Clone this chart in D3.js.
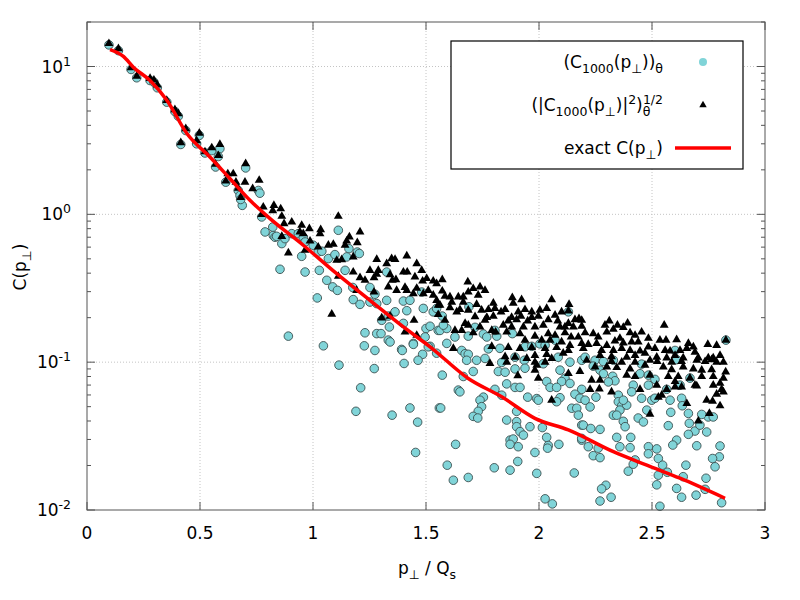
<!DOCTYPE html>
<html lang="en">
<head>
<meta charset="UTF-8">
<title>C(p⊥)</title>
<script src="https://d3js.org/d3.v7.min.js"></script>
<style>
  body { margin: 0; background: #fff; }
  svg { font-family: "DejaVu Sans", sans-serif; }
  .grid line { stroke: #c4c4c4; stroke-width: 1; stroke-dasharray: 1,2; }
  .frame { fill: none; stroke: #555; stroke-width: 1; }
  .tick { stroke: #555; stroke-width: 1; }
  .lbl { font-size: 17px; fill: #000; }
</style>
</head>
<body>
<svg id="chart" width="800" height="600"></svg>
<script>
// axis ticks
const xTicks = [0, 0.5, 1, 1.5, 2, 2.5, 3];
const yDecades = [-2, -1, 0, 1];

// exact C(p_perp)
const exactCurve = [
  [0.102, 13.0], [0.161, 11.7], [0.205, 9.9], [0.279, 8.03], [0.354, 5.89], [0.442, 3.52],
  [0.544, 2.44], [0.633, 1.74], [0.721, 1.245], [0.810, 0.935], [0.957, 0.618], [1.105, 0.397],
  [1.252, 0.262], [1.400, 0.173], [1.518, 0.127], [1.687, 0.0776], [1.835, 0.0583], [1.982, 0.0417],
  [2.130, 0.0348], [2.329, 0.0248], [2.477, 0.0201], [2.624, 0.0164], [2.823, 0.0120]
];

// (C_1000(p_perp))_theta  -- circles
const meanPts = [
  [0.097,14.0],[0.139,12.8],[0.195,9.55],[0.220,8.39],[0.279,8.04],[0.296,7.83],[0.311,7.18],[0.353,5.74],
  [0.389,4.96],[0.404,4.61],[0.437,3.69],[0.415,2.97],[0.485,3.0],[0.497,3.42],[0.522,2.60],[0.552,2.7],
  [0.588,2.78],[0.581,2.46],[0.569,2.09],[0.614,1.65],[0.669,1.45],[0.677,1.34],[0.687,1.15],[0.680,1.26],
  [0.702,2.06],[0.758,1.45],[0.765,1.39],[0.773,0.96],[0.788,0.76],[0.824,0.72],[0.832,0.70],
  [0.822,0.82],[0.839,0.71],[0.862,0.634],[0.876,0.685],[0.906,0.74],[0.935,0.74],[0.957,0.70],[0.965,0.65],
  [1.001,0.618],[1.023,0.556],[1.039,0.563],[0.950,0.520],[1.068,0.502],[1.097,0.534],[1.112,0.78],[1.159,0.586],
  [1.196,0.556],[1.205,0.543],[1.149,0.515],[0.854,0.425],[0.965,0.407],[1.028,0.418],[1.061,0.358],[1.142,0.418],
  [1.326,0.407],[1.087,0.323],[1.108,0.306],[1.176,0.320],[1.252,0.320],[1.178,0.265],[1.208,0.246],[1.252,0.255],
  [1.282,0.249],[1.326,0.262],[1.400,0.259],[1.429,0.262],[1.481,0.298],[1.019,0.272],[1.274,0.288],[1.363,0.219],
  [1.333,0.205],[1.415,0.223],[1.488,0.231],[1.532,0.219],[1.547,0.231],[1.304,0.192],[1.400,0.183],[1.500,0.169],
  [1.518,0.175],[1.554,0.164],[1.338,0.173],[1.282,0.156],[1.301,0.156],[1.230,0.158],[1.496,0.148],[1.333,0.141],
  [1.444,0.134],[0.891,0.150],[1.046,0.129],[1.227,0.129],[1.392,0.122],[1.518,0.128],
  [1.274,0.120],[1.341,0.137],[1.395,0.120],[1.444,0.132],[1.510,0.127],[1.485,0.113],[1.465,0.103],[1.547,0.115],
  [1.115,0.0955],[1.271,0.0905],[1.403,0.098],[1.211,0.0671],[1.190,0.0465],[1.350,0.0438],[1.429,0.0490],
  [1.463,0.0393],[1.559,0.0490],[1.454,0.0245],
  [1.690,0.237],[1.572,0.205],[1.562,0.164],[1.592,0.169],[1.577,0.178],[1.628,0.148],[1.687,0.150],[1.717,0.172],
  [1.754,0.155],[1.769,0.148],[1.813,0.150],[1.805,0.164],[1.882,0.156],[2.130,0.219],[1.592,0.134],[1.658,0.120],
  [1.673,0.114],[1.687,0.113],[1.776,0.123],[1.827,0.124],[1.938,0.127],[1.968,0.128],[2.004,0.133],[2.027,0.130],
  [2.071,0.141],[1.680,0.103],[1.724,0.103],[1.761,0.106],[1.835,0.0995],[1.894,0.108],[1.935,0.103],[2.019,0.0975],
  [2.085,0.108],[2.137,0.100],[2.189,0.103],
  [1.572,0.0817],[1.643,0.0647],[1.650,0.063],[1.709,0.0865],[1.665,0.080],[1.820,0.0865],[1.850,0.0855],[1.894,0.090],
  [1.938,0.091],[1.857,0.0713],[1.894,0.0675],[1.916,0.0675],[1.805,0.0655],[1.754,0.058],[1.739,0.0553],[1.746,0.050],
  [1.731,0.0465],[1.709,0.0430],[1.729,0.0419],[1.565,0.049],[1.835,0.0598],[1.950,0.058],[1.990,0.0567],[1.997,0.0553],
  [1.901,0.0465],[1.857,0.0406],[1.901,0.0396],[1.901,0.0366],[1.916,0.0339],[1.931,0.0321],[1.960,0.0366],[2.015,0.0361],
  [2.093,0.0883],[2.115,0.0778],[2.100,0.074],[2.137,0.0718],[2.034,0.074],[2.049,0.0675],[2.078,0.0675],[2.189,0.0655],
  [2.159,0.0607],[2.181,0.057],[2.093,0.0575],[2.078,0.0540],[2.145,0.0488],[2.167,0.0488],[2.174,0.0438],[2.189,0.0375],
  [2.189,0.0297],[1.872,0.0297],[1.886,0.0302],[1.872,0.0278],[1.908,0.0268],[2.034,0.0310],[2.041,0.0273],[2.038,0.0262],
  [2.088,0.0278],[1.982,0.0245],[1.631,0.0278],[1.594,0.0201],[1.621,0.0159],[1.687,0.0166],[1.802,0.0193],[1.872,0.0186],
  [1.906,0.0213],[1.990,0.0177],[2.156,0.0178],[2.027,0.0119],[2.059,0.0110],
  [2.204,0.108],[2.248,0.103],[2.285,0.101],[2.240,0.094],[2.270,0.0883],[2.285,0.0835],[2.329,0.103],[2.454,0.097],
  [2.447,0.0835],[2.484,0.0817],[2.513,0.0765],[2.609,0.104],[2.602,0.120],[2.326,0.0803],[2.336,0.0748],[2.307,0.0735],
  [2.417,0.0699],[2.484,0.0699],[2.565,0.0655],[2.668,0.078],[2.624,0.0699],[2.827,0.141],
  [2.204,0.0553],[2.226,0.0498],[2.252,0.058],[2.196,0.0375],[2.229,0.0356],[2.270,0.0351],[2.351,0.0598],[2.351,0.0540],
  [2.366,0.0507],[2.388,0.0512],[2.373,0.0553],[2.358,0.0474],[2.329,0.0438],[2.344,0.0438],[2.410,0.0630],[2.454,0.057],
  [2.499,0.0553],[2.513,0.057],[2.477,0.0474],[2.439,0.0419],[2.462,0.0394],[2.373,0.0398],[2.381,0.0366],
  [2.580,0.0553],[2.631,0.057],[2.634,0.0507],[2.583,0.0458],[2.661,0.0450],[2.572,0.0372],[2.665,0.0386],[2.690,0.0342],
  [2.661,0.0325],[2.712,0.0375],[2.749,0.0426],[2.771,0.0426],[2.720,0.0443],[2.742,0.0337],
  [2.344,0.0310],[2.406,0.0310],[2.189,0.0305],[2.218,0.0268],[2.262,0.0262],[2.358,0.0268],[2.403,0.0264],[2.240,0.0233],
  [2.270,0.0226],[2.484,0.0268],[2.521,0.0259],[2.484,0.0240],[2.528,0.0223],[2.609,0.0297],[2.592,0.0275],[2.698,0.0272],
  [2.801,0.0271],[2.798,0.0229],[2.768,0.0223],[2.779,0.0196],[2.425,0.0218],[2.417,0.0204],[2.395,0.0183],[2.547,0.0201],
  [2.568,0.0180],[2.650,0.0201],[2.528,0.0172],[2.638,0.0168],[2.739,0.0164],[2.296,0.0147],[2.277,0.0139],[2.319,0.0122],
  [2.270,0.0115],[2.521,0.0148],[2.609,0.0140],[2.735,0.0138],[2.695,0.0126],[2.631,0.0122],[2.535,0.0106],[2.808,0.0112]
];

// (|C_1000(p_perp)|^2)_theta^(1/2)  -- triangles
const rmsPts = [
  [0.097,14.3],[0.139,13.2],[0.195,9.8],[0.220,8.6],[0.279,8.3],[0.296,8.1],[0.311,7.5],[0.353,5.9],[0.389,5.1],
  [0.404,4.8],[0.437,3.8],[0.415,3.05],[0.485,3.15],[0.497,3.54],[0.522,2.65],[0.552,2.82],[0.588,2.97],[0.581,2.5],
  [0.569,2.18],[0.623,1.88],[0.647,1.88],[0.659,1.65],[0.614,1.68],[0.669,1.50],[0.680,1.30],[0.702,2.20],[0.699,1.65],
  [0.762,1.70],[0.733,1.49],[0.780,1.12],[0.773,1.0],[0.827,1.15],[0.857,1.09],[0.862,0.97],[0.822,1.06],[0.906,0.887],
  [0.950,0.843],[0.984,0.80],[1.112,0.97],
  [0.872,0.865],[1.034,0.788],[0.942,0.76],[0.957,0.741],[1.031,0.741],[1.208,0.76],[1.161,0.703],[0.862,0.71],
  [0.987,0.66],[1.090,0.627],[1.068,0.618],[1.196,0.644],[1.023,0.601],[1.149,0.66],[1.142,0.618],[0.891,0.548],
  [0.965,0.571],[1.282,0.496],[1.415,0.523],[1.326,0.464],[1.348,0.502],[1.363,0.496],[1.105,0.489],[1.127,0.494],
  [1.459,0.464],[1.178,0.515],[1.252,0.418],[1.289,0.418],[1.481,0.418],[1.400,0.407],[1.417,0.407],[1.341,0.391],
  [1.178,0.407],[1.208,0.373],[1.112,0.381],[1.270,0.373],[1.282,0.393],[1.230,0.358],[1.351,0.358],[1.367,0.362],
  [1.451,0.377],[1.503,0.368],[1.532,0.354],[1.485,0.354],[1.193,0.306],[1.270,0.298],[1.370,0.306],[1.415,0.306],
  [1.407,0.320],[1.444,0.291],[1.488,0.291],[1.532,0.284],[1.510,0.306],[1.547,0.262],[1.459,0.316],[1.333,0.323],
  [1.554,0.243],[1.083,0.211],[1.304,0.199],[1.447,0.192],[1.407,0.160],[1.459,0.152],[1.341,0.205],
  [1.572,0.362],[1.685,0.349],[1.547,0.340],[1.572,0.303],[1.687,0.298],[1.709,0.315],[1.739,0.323],[1.761,0.306],
  [1.731,0.284],[1.584,0.279],[1.606,0.276],[1.643,0.276],[1.665,0.276],[1.562,0.243],[1.614,0.255],[1.665,0.255],
  [1.724,0.246],[1.798,0.251],[1.882,0.273],[1.923,0.265],[2.056,0.265],[2.133,0.246],[1.886,0.251],[1.606,0.234],
  [1.650,0.227],[1.687,0.225],[1.746,0.225],[1.776,0.227],[1.805,0.231],[1.832,0.219],[1.850,0.227],[1.908,0.219],
  [1.938,0.227],[1.968,0.219],[2.004,0.225],[2.034,0.231],[2.100,0.219],[2.130,0.222],[1.554,0.210],[1.636,0.219],
  [1.717,0.203],[1.769,0.201],[1.798,0.205],[1.879,0.201],[1.920,0.205],[1.968,0.201],[2.071,0.208],[1.997,0.205],
  [1.584,0.192],[1.673,0.183],[1.761,0.192],[1.864,0.190],[1.901,0.194],[1.950,0.190],[2.041,0.194],[2.083,0.190],
  [2.159,0.194],[2.177,0.197],[2.130,0.183],[1.628,0.164],[1.687,0.178],[1.739,0.173],[1.791,0.164],[1.842,0.178],
  [1.879,0.173],[1.931,0.173],[1.982,0.173],[2.019,0.178],[2.093,0.173],[2.115,0.173],[2.152,0.173],[2.189,0.175],
  [1.658,0.164],[1.709,0.158],[1.808,0.160],[1.857,0.160],[1.916,0.156],[1.982,0.150],[2.041,0.156],[2.071,0.152],
  [2.115,0.158],[2.142,0.148],[2.174,0.148],[1.938,0.141],[2.012,0.141],[2.049,0.141],[2.100,0.137],[2.137,0.130],
  [2.189,0.134],[2.196,0.124],[1.621,0.124],[1.791,0.128],[1.864,0.126],[1.916,0.124],[1.968,0.126],[2.027,0.124],
  [2.078,0.126],[2.130,0.120],[1.850,0.109],[1.894,0.108],[1.946,0.106],[1.982,0.111],[2.034,0.113],[2.056,0.106],
  [2.107,0.115],[1.783,0.098],[1.857,0.100],[1.982,0.100],[2.027,0.100],
  [1.906,0.081],[1.982,0.0883],[1.997,0.078],[2.130,0.0838],[2.181,0.0865],[2.056,0.0553],[1.990,0.0955],
  [2.311,0.190],[2.347,0.178],[2.392,0.184],[2.373,0.172],[2.292,0.178],[2.329,0.167],[2.300,0.160],[2.189,0.192],
  [2.204,0.158],[2.240,0.156],[2.262,0.148],[2.403,0.158],[2.425,0.152],[2.454,0.160],[2.554,0.178],[2.358,0.145],
  [2.336,0.139],[2.300,0.130],[2.373,0.135],[2.410,0.137],[2.439,0.137],[2.484,0.145],[2.535,0.141],[2.562,0.141],
  [2.609,0.142],[2.661,0.134],[2.747,0.132],[2.786,0.130],[2.827,0.141],[2.218,0.132],[2.255,0.134],[2.277,0.120],
  [2.329,0.120],[2.366,0.124],[2.403,0.120],[2.447,0.119],[2.484,0.127],[2.513,0.124],[2.558,0.120],[2.580,0.119],
  [2.624,0.120],[2.654,0.124],[2.683,0.127],[2.690,0.117],[2.270,0.111],[2.321,0.109],[2.388,0.108],[2.425,0.111],
  [2.469,0.115],[2.521,0.108],[2.565,0.107],[2.602,0.111],[2.638,0.107],[2.705,0.107],[2.749,0.107],[2.771,0.107],
  [2.801,0.111],[2.211,0.103],[2.321,0.101],[2.366,0.100],[2.425,0.100],[2.491,0.103],[2.523,0.101],[2.587,0.100],
  [2.631,0.101],[2.698,0.103],[2.735,0.101],[2.764,0.104],[2.786,0.100],[2.816,0.100],[2.248,0.093],[2.300,0.093],
  [2.344,0.092],[2.403,0.090],[2.469,0.0955],[2.550,0.093],[2.587,0.089],[2.638,0.093],[2.683,0.090],[2.720,0.0883],
  [2.764,0.089],[2.826,0.086],[2.388,0.0817],[2.425,0.080],[2.491,0.0817],[2.572,0.080],[2.616,0.080],[2.668,0.078],
  [2.720,0.080],[2.771,0.080],[2.816,0.078],[2.233,0.0756],[2.270,0.0756],[2.521,0.0699],[2.602,0.074],[2.690,0.0699],
  [2.771,0.0699],[2.801,0.072],[2.808,0.0655],
  [2.226,0.0655],[2.267,0.066],[2.321,0.063],[2.447,0.0654],[2.528,0.058],[2.543,0.0598],[2.565,0.0654],[2.602,0.068],
  [2.631,0.068],[2.698,0.069],[2.654,0.0525],[2.491,0.0445],[2.742,0.0553],[2.768,0.0545],[2.786,0.0607],[2.801,0.0507],
  [2.754,0.045],[2.705,0.040],[2.816,0.063]
];

const svg = d3.select("#chart");
const plotLeft = 87, plotRight = 765, plotTop = 22, plotBottom = 510;

const x = d3.scaleLinear().domain([0, 3]).range([plotLeft, plotRight]);
const y = d3.scaleLog().domain([0.01, 20]).range([plotBottom, plotTop]);

// text with sub/superscripts
function rich(sel, parts) {
  let shift = 0;
  parts.forEach(p => {
    const target = p.s === "sub" ? 5 : p.s === "sup" ? -7 : 0;
    const ts = sel.append("tspan").attr("dy", target - shift).text(p.t);
    if (p.s) ts.style("font-size", "12.5px");
    if (p.dx) ts.attr("dx", p.dx);
    shift = target;
  });
}

// grid
const grid = svg.append("g").attr("class", "grid");
xTicks.slice(1, -1).forEach(t => {
  grid.append("line").attr("x1", x(t)).attr("x2", x(t)).attr("y1", plotTop).attr("y2", plotBottom);
});
yDecades.slice(1).forEach(e => {
  const yy = y(Math.pow(10, e));
  grid.append("line").attr("x1", plotLeft).attr("x2", plotRight).attr("y1", yy).attr("y2", yy);
});

// ticks on all four sides, pointing inward
const tk = svg.append("g");
xTicks.forEach(t => {
  tk.append("line").attr("class", "tick").attr("x1", x(t)).attr("x2", x(t)).attr("y1", plotBottom).attr("y2", plotBottom - 8);
  tk.append("line").attr("class", "tick").attr("x1", x(t)).attr("x2", x(t)).attr("y1", plotTop).attr("y2", plotTop + 8);
  svg.append("text").attr("class", "lbl").attr("x", x(t)).attr("y", 539)
    .attr("text-anchor", "middle").text(t);
});
const yMinor = [];
yDecades.forEach(e => {
  for (let k = 2; k <= 9; k++) {
    const v = k * Math.pow(10, e);
    if (v <= 20) yMinor.push(v);
  }
});
yDecades.forEach(e => {
  const yy = y(Math.pow(10, e));
  tk.append("line").attr("class", "tick").attr("x1", plotLeft).attr("x2", plotLeft + 8).attr("y1", yy).attr("y2", yy);
  tk.append("line").attr("class", "tick").attr("x1", plotRight).attr("x2", plotRight - 8).attr("y1", yy).attr("y2", yy);
  const t = svg.append("text").attr("class", "lbl").attr("x", 71).attr("y", yy + 6).attr("text-anchor", "end");
  rich(t, [{ t: "10" }, { t: String(e), s: "sup" }]);
});
yMinor.forEach(v => {
  const yy = y(v);
  tk.append("line").attr("class", "tick").attr("x1", plotLeft).attr("x2", plotLeft + 4).attr("y1", yy).attr("y2", yy);
  tk.append("line").attr("class", "tick").attr("x1", plotRight).attr("x2", plotRight - 4).attr("y1", yy).attr("y2", yy);
});

// data
const cyan = "#80d4d8";
svg.append("g").selectAll("circle").data(meanPts).join("circle")
  .attr("cx", d => x(d[0])).attr("cy", d => y(d[1])).attr("r", 4.3)
  .attr("fill", cyan).attr("stroke", "#3c5050").attr("stroke-width", 0.9);

const tri = d3.symbol(d3.symbolTriangle).size(34);
svg.append("g").selectAll("path").data(rmsPts).join("path")
  .attr("transform", d => `translate(${x(d[0])},${y(d[1])})`)
  .attr("d", tri).attr("fill", "#000");

svg.append("path").datum(exactCurve)
  .attr("d", d3.line().x(d => x(d[0])).y(d => y(d[1])).curve(d3.curveMonotoneX))
  .attr("fill", "none").attr("stroke", "#ff0000").attr("stroke-width", 3.5);

// frame
svg.append("rect").attr("class", "frame").attr("x", plotLeft).attr("y", plotTop)
  .attr("width", plotRight - plotLeft).attr("height", plotBottom - plotTop);

// legend
svg.append("rect").attr("x", 451).attr("y", 41).attr("width", 292).attr("height", 128)
  .attr("fill", "#fff").attr("stroke", "#000").attr("stroke-width", 1.2);
const legendRows = [
  [{ t: "(C" }, { t: "1000", s: "sub" }, { t: "(p" }, { t: "⊥", s: "sub" }, { t: "))" }, { t: "θ", s: "sub" }],
  [{ t: "(|C" }, { t: "1000", s: "sub" }, { t: "(p" }, { t: "⊥", s: "sub" }, { t: ")|" }, { t: "2", s: "sup" },
   { t: ")" }, { t: "θ", s: "sub" }, { t: "1/2", s: "sup", dx: -7.5 }],
  [{ t: "exact C(p" }, { t: "⊥", s: "sub" }, { t: ")" }]
];
const rowY = [62, 105, 148];
legendRows.forEach((parts, i) => {
  const t = svg.append("text").attr("class", "lbl").attr("x", 663).attr("y", rowY[i] + 6)
    .attr("text-anchor", "end");
  rich(t, parts);
});
svg.append("circle").attr("cx", 703).attr("cy", rowY[0]).attr("r", 4).attr("fill", cyan);
svg.append("path").attr("transform", `translate(703,${rowY[1]})`)
  .attr("d", d3.symbol(d3.symbolTriangle).size(24)).attr("fill", "#000");
svg.append("line").attr("x1", 675).attr("x2", 731).attr("y1", rowY[2]).attr("y2", rowY[2])
  .attr("stroke", "#ff0000").attr("stroke-width", 3.5);

// axis titles
const xt = svg.append("text").attr("class", "lbl").attr("x", 427).attr("y", 574).attr("text-anchor", "middle");
rich(xt, [{ t: "p" }, { t: "⊥", s: "sub" }, { t: " / Q" }, { t: "s", s: "sub" }]);
const yt = svg.append("text").attr("class", "lbl").attr("text-anchor", "middle")
  .attr("transform", "translate(26,267) rotate(-90)");
rich(yt, [{ t: "C(p" }, { t: "⊥", s: "sub" }, { t: ")" }]);
</script>
</body>
</html>
